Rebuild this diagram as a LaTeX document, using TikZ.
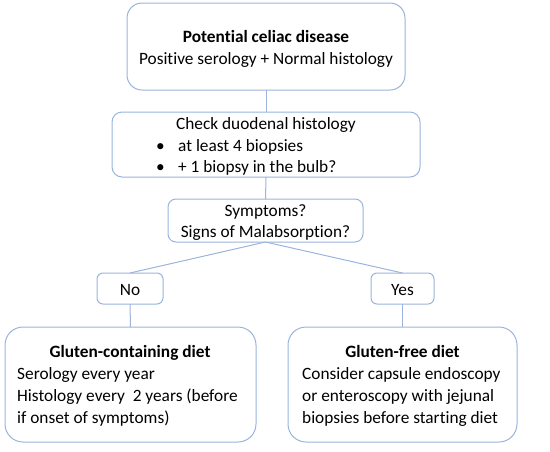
\documentclass[tikz,border=0pt]{standalone}
\usepackage{fontspec}
\setmainfont{Carlito}[Ligatures={NoCommon}]
\definecolor{edge}{RGB}{155,180,222}
\begin{document}
\begin{tikzpicture}[x=1pt,y=-1pt,
  box/.style={draw=edge,line width=1pt,fill=white,inner sep=0pt,outer sep=0pt},
  txt/.style={inner sep=0pt,anchor=base,font=\fontsize{17.3}{21}\selectfont},
  ltxt/.style={inner sep=0pt,anchor=base west,font=\fontsize{17.3}{21}\selectfont},
  link/.style={draw=edge,line width=1pt}]
\useasboundingbox (0,0) rectangle (550,451);
\node[box,rounded corners=15pt,minimum width=278pt,minimum height=87pt] (top) at (266,46.5) {};
\node[box,rounded corners=10pt,minimum width=308pt,minimum height=65pt] (chk) at (266,144.5) {};
\node[box,rounded corners=8pt,minimum width=195pt,minimum height=43pt] (sym) at (265.5,220.5) {};
\node[box,rounded corners=6pt,minimum width=66pt,minimum height=31pt] (no) at (130,288.5) {};
\node[box,rounded corners=6pt,minimum width=63pt,minimum height=31pt] (yes) at (402.5,288.5) {};
\node[box,rounded corners=18pt,minimum width=251pt,minimum height=115pt] (gc) at (130.5,384.5) {};
\node[box,rounded corners=18pt,minimum width=229pt,minimum height=115pt] (gf) at (402.5,384.5) {};
\draw[link] (top.south) -- (chk.north);
\draw[link] (chk.south) -- (sym.north);
\draw[link] (sym.south) -- (no.north);
\draw[link] (sym.south) -- (yes.north);
\draw[link] (no.south) -- (gc.north);
\draw[link] (yes.south) -- (gf.north);
% texts
\node[txt] (t1) at (266,42) {\bfseries Potential celiac disease};
\node[txt] (t2) at (266,64) {Positive serology + Normal histology};
\node[txt] (t3) at (266,129) {Check duodenal histology};
\node[ltxt] (b1) at (156,151) {\textbullet};
\node[ltxt] (b2) at (156,172) {\textbullet};
\node[ltxt] (t4) at (178,151) {at least 4 biopsies};
\node[ltxt] (t5) at (178,172) {+ 1 biopsy in the bulb?};
\node[txt] (t6) at (265.5,216) {Symptoms?};
\node[txt] (t7) at (265.5,237) {Signs of Malabsorption?};
\node[txt] (t8) at (130,295) {No};
\node[txt] (t9) at (402.5,295) {Yes};
\node[txt] (t10) at (130,357) {\bfseries Gluten-containing diet};
\node[ltxt] (t11) at (17,379) {Serology every year};
\node[ltxt] (t12) at (17,401) {Histology every\ \ 2 years (before};
\node[ltxt] (t13) at (17,423) {if onset of symptoms)};
\node[txt] (t14) at (402.5,357) {\bfseries Gluten-free diet};
\node[ltxt] (t15) at (302,379) {Consider capsule endoscopy};
\node[ltxt] (t16) at (302,401) {or enteroscopy with jejunal};
\node[ltxt] (t17) at (302,423) {biopsies before starting diet};
\end{tikzpicture}
\end{document}
